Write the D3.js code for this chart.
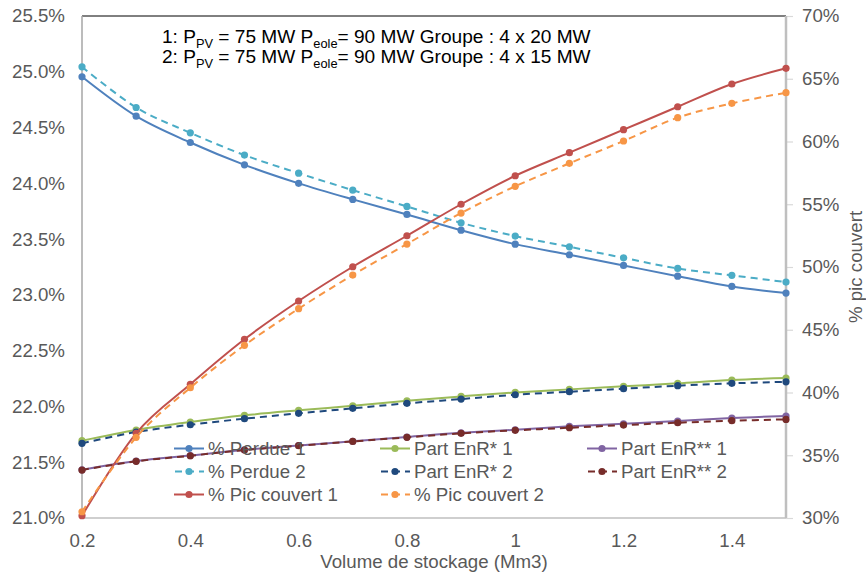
<!DOCTYPE html>
<html>
<head>
<meta charset="utf-8">
<script src="https://cdn.jsdelivr.net/npm/d3@7"></script>
<style>
  html, body { margin: 0; padding: 0; background: #fff; }
  svg { display: block; font-family: Arial, "Liberation Sans", sans-serif; }
</style>
</head>
<body>
<svg id="chart" width="866" height="576"></svg>
<script>
// ---- data ----
const volumes = [0.2, 0.3, 0.4, 0.5, 0.6, 0.7, 0.8, 0.9, 1.0, 1.1, 1.2, 1.3, 1.4, 1.5];
const perdue1 = [24.955, 24.602, 24.366, 24.166, 24.000, 23.856, 23.721, 23.580, 23.455, 23.360, 23.264, 23.168, 23.076, 23.016];
const perdue2 = [25.044, 24.680, 24.453, 24.253, 24.091, 23.939, 23.793, 23.646, 23.527, 23.431, 23.332, 23.237, 23.175, 23.115];
const enrStar1 = [21.693, 21.789, 21.860, 21.920, 21.965, 22.006, 22.050, 22.090, 22.126, 22.153, 22.180, 22.207, 22.237, 22.254];
const enrStar2 = [21.669, 21.771, 21.836, 21.890, 21.938, 21.983, 22.028, 22.066, 22.105, 22.132, 22.159, 22.186, 22.207, 22.221];
const enrStarStar1 = [21.432, 21.510, 21.560, 21.611, 21.650, 21.688, 21.726, 21.764, 21.791, 21.822, 21.845, 21.869, 21.896, 21.914];
const enrStarStar2 = [21.430, 21.508, 21.558, 21.609, 21.648, 21.686, 21.723, 21.759, 21.786, 21.809, 21.833, 21.854, 21.872, 21.884];
const picCouvert1 = [30.18, 36.75, 40.65, 44.24, 47.29, 50.02, 52.49, 55.00, 57.27, 59.11, 60.94, 62.77, 64.58, 65.83];
const picCouvert2 = [30.50, 36.43, 40.38, 43.76, 46.68, 49.36, 51.83, 54.30, 56.43, 58.26, 60.04, 61.90, 63.04, 63.89];

const leftTicks = [21.0, 21.5, 22.0, 22.5, 23.0, 23.5, 24.0, 24.5, 25.0, 25.5];
const rightTicks = [30, 35, 40, 45, 50, 55, 60, 65, 70];
const xTicks = [0.2, 0.4, 0.6, 0.8, 1.0, 1.2, 1.4];

const seriesNames = ["% Perdue 1", "Part EnR* 1", "Part EnR** 1", "% Perdue 2", "Part EnR* 2", "Part EnR** 2", "% Pic couvert 1", "% Pic couvert 2"];
const seriesValues = [perdue1, enrStar1, enrStarStar1, perdue2, enrStar2, enrStarStar2, picCouvert1, picCouvert2];
const seriesAxis = ["left", "left", "left", "left", "left", "left", "right", "right"];
const seriesColors = ["#4F81BD", "#9BBB59", "#8064A2", "#4BACC6", "#1F497D", "#772C2A", "#C0504D", "#F79646"];
const seriesDashed = [false, false, false, true, true, true, false, true];

// ---- layout ----
const plot = { left: 82, right: 786, top: 16, bottom: 518 };
const FONT = 18.7;
const GREY = "#595959";
const FAM = "Arial, 'Liberation Sans', sans-serif";

const svg = d3.select("#chart");

const x = d3.scaleLinear().domain([0.2, 1.5]).range([plot.left, plot.right]);
const yL = d3.scaleLinear().domain([21, 25.5]).range([plot.bottom, plot.top]);
const yR = d3.scaleLinear().domain([30, 70]).range([plot.bottom, plot.top]);

// top border
svg.append("line")
  .attr("x1", plot.left).attr("x2", plot.right)
  .attr("y1", plot.top).attr("y2", plot.top)
  .attr("stroke", "#000").attr("stroke-width", 1);

// bottom axis
const gx = svg.append("g").attr("transform", `translate(0,${plot.bottom})`)
  .call(d3.axisBottom(x).tickValues(xTicks).tickSize(0).tickPadding(16)
    .tickFormat(d => d3.format("~g")(d)));
gx.select(".domain").remove();
gx.selectAll("text").attr("font-size", FONT).attr("fill", GREY).attr("font-family", FAM);
svg.append("line")
  .attr("x1", plot.left).attr("x2", plot.right)
  .attr("y1", plot.bottom).attr("y2", plot.bottom)
  .attr("stroke", "#BFBFBF").attr("stroke-width", 1.5);

// left axis
const gl = svg.append("g").attr("transform", `translate(${plot.left},0)`)
  .call(d3.axisLeft(yL).tickValues(leftTicks).tickSize(0).tickPadding(17)
    .tickFormat(d => d.toFixed(1) + "%"));
gl.select(".domain").remove();
gl.selectAll("text").attr("font-size", FONT).attr("fill", GREY).attr("font-family", FAM);
svg.append("line")
  .attr("x1", plot.left).attr("x2", plot.left)
  .attr("y1", plot.top).attr("y2", plot.bottom)
  .attr("stroke", "#A6A6A6").attr("stroke-width", 1.5);

// right axis
const gr = svg.append("g").attr("transform", `translate(${plot.right},0)`)
  .call(d3.axisRight(yR).tickValues(rightTicks).tickSize(7).tickPadding(9)
    .tickFormat(d => d + "%"));
gr.select(".domain").remove();
gr.selectAll(".tick line").attr("stroke", "#D9D9D9").attr("stroke-width", 1.2);
gr.selectAll("text").attr("font-size", FONT).attr("fill", GREY).attr("font-family", FAM);
svg.append("line")
  .attr("x1", plot.right).attr("x2", plot.right)
  .attr("y1", plot.top).attr("y2", plot.bottom)
  .attr("stroke", "#BFBFBF").attr("stroke-width", 2.5);

// axis titles
svg.append("text")
  .attr("x", (plot.left + plot.right) / 2).attr("y", 568)
  .attr("text-anchor", "middle").attr("font-size", FONT).attr("fill", GREY)
  .text("Volume de stockage (Mm3)");
svg.append("text")
  .attr("transform", `translate(855,${(plot.top + plot.bottom) / 2}) rotate(-90)`)
  .attr("text-anchor", "middle").attr("dominant-baseline", "central")
  .attr("font-size", FONT).attr("fill", GREY)
  .text("% pic couvert");

// series
const line = d3.line().curve(d3.curveCardinal.tension(0));
const gSeries = svg.append("g");
seriesValues.forEach((vals, i) => {
  const ys = seriesAxis[i] === "left" ? yL : yR;
  const pts = vals.map((v, j) => [x(volumes[j]), ys(v)]);
  const g = gSeries.append("g");
  g.append("path")
    .attr("d", line(pts))
    .attr("fill", "none")
    .attr("stroke", seriesColors[i])
    .attr("stroke-width", 2)
    .attr("stroke-dasharray", seriesDashed[i] ? "7,5" : null);
  g.selectAll("circle").data(pts).enter().append("circle")
    .attr("cx", d => d[0]).attr("cy", d => d[1]).attr("r", 3.6)
    .attr("fill", seriesColors[i]);
});

// legend
const legCols = [174, 380, 587];
const legRows = [448.5, 471.5, 494.5];
const gLeg = svg.append("g");
seriesNames.forEach((name, i) => {
  const cx = legCols[i % 3], cy = legRows[Math.floor(i / 3)];
  const g = gLeg.append("g").attr("transform", `translate(${cx},${cy})`);
  g.append("line").attr("x1", 0).attr("x2", 30).attr("y1", 0).attr("y2", 0)
    .attr("stroke", seriesColors[i]).attr("stroke-width", 2)
    .attr("stroke-dasharray", seriesDashed[i] ? "7,5" : null)
    .attr("stroke-dashoffset", seriesDashed[i] ? -1 : null);
  g.append("circle").attr("cx", 15).attr("cy", 0).attr("r", 3.6).attr("fill", seriesColors[i]);
  g.append("text").attr("x", 34).attr("y", 0).attr("dominant-baseline", "central")
    .attr("font-size", FONT).attr("fill", GREY).text(name);
});

// annotation
const annotPrefix = ["1: ", "2: "];
const annotGroupe = ["20", "15"];
const annotY = [43, 63];
annotPrefix.forEach((p, i) => {
  const t = svg.append("text").attr("x", 162).attr("y", annotY[i])
    .attr("font-size", 19.1).attr("fill", "#000");
  t.append("tspan").text(p + "P");
  t.append("tspan").attr("font-size", 12.8).attr("dy", 5).text("PV");
  t.append("tspan").attr("dy", -5).text(" = 75 MW P");
  t.append("tspan").attr("font-size", 12.8).attr("dy", 5).text("eole");
  t.append("tspan").attr("dy", -5).text("= 90 MW Groupe : 4 x " + annotGroupe[i] + " MW");
});
</script>
</body>
</html>
